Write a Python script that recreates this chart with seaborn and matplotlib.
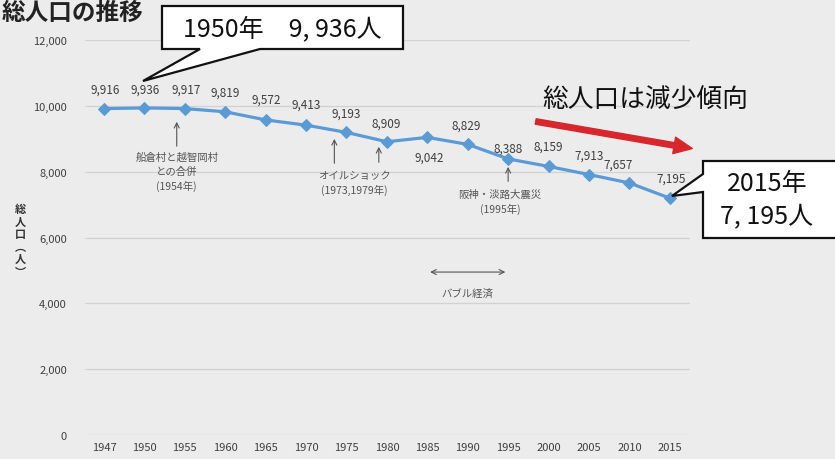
import matplotlib
matplotlib.use("Agg")
import matplotlib.pyplot as plt
from matplotlib.patches import Polygon, FancyArrowPatch
import seaborn as sns
import pandas as pd
import numpy as np

# data
years = ["1947", "1950", "1955", "1960", "1965", "1970", "1975", "1980",
         "1985", "1990", "1995", "2000", "2005", "2010", "2015"]
population = [9916, 9936, 9917, 9819, 9572, 9413, 9193, 8909,
              9042, 8829, 8388, 8159, 7913, 7657, 7195]
y_ticks = [0, 2000, 4000, 6000, 8000, 10000, 12000]

# label offsets in pixels (dx, dy) relative to each point
label_offsets = [(1, 19), (1, 19), (1, 19), (0, 20), (1, 21), (0, 21), (0, 19), (-1, 19),
                 (2, -20), (-2, 19), (0, 11), (0, 20), (0, 19), (-11, 19), (1, 20)]

df = pd.DataFrame({"year": years, "population": population})

sns.set_theme(style="white")
plt.rcParams["font.family"] = ["Noto Sans CJK JP", "DejaVu Sans"]

bg = "#ececec"
W, H = 835, 460
fig = plt.figure(figsize=(W / 100, H / 100), dpi=100, facecolor=bg)
ax = fig.add_axes([85 / W, 24 / H, 605 / W, 395 / H], facecolor=bg)

sns.lineplot(data=df, x="year", y="population", sort=False, ax=ax,
             color="#5b9bd5", linewidth=2.3, marker="D", markersize=6,
             markeredgecolor="#5b9bd5", zorder=3)

ax.set_xlim(-0.47, len(years) - 0.5)
ax.set_ylim(0, 12000)
ax.set_yticks(y_ticks)
ax.set_yticklabels([f"{v:,}" for v in y_ticks], fontsize=8, color="#404040")
ax.tick_params(axis="y", length=0, pad=13)
ax.tick_params(axis="x", length=0, pad=5, labelsize=8, labelcolor="#404040")
ax.yaxis.grid(True, color="#d2d2d2", linewidth=0.9)
ax.xaxis.grid(False)
ax.set_xlabel("")
ax.set_ylabel("")
for s in ax.spines.values():
    s.set_visible(False)

# data labels
for i, (v, (dx, dy)) in enumerate(zip(population, label_offsets)):
    ax.annotate(f"{v:,}", xy=(i, v), xytext=(dx, dy), textcoords="offset pixels",
                ha="center", va="center", fontsize=8.5, color="#404040")


def pos(year):
    yrs = [int(y) for y in years]
    return float(np.interp(year, yrs, range(len(yrs))))


note_kw = dict(fontsize=7.5, color="#555555", ha="center", va="top", linespacing=1.45)
arrow_kw = dict(arrowstyle="->", color="#555555", lw=0.8, mutation_scale=9)

# merger 1954
ax.annotate("", xy=(pos(1954), 9600), xytext=(pos(1954), 8690), arrowprops=arrow_kw)
ax.text(pos(1954), 8620, "船倉村と越智岡村\nとの合併\n(1954年)", **note_kw)
# oil shock
ax.annotate("", xy=(pos(1973.5), 9080), xytext=(pos(1973.5), 8170), arrowprops=arrow_kw)
ax.annotate("", xy=(pos(1979), 8840), xytext=(pos(1979), 8200), arrowprops=arrow_kw)
ax.text(pos(1976), 8050, "オイルショック\n(1973,1979年)", **note_kw)
# earthquake
ax.annotate("", xy=(pos(1995), 8230), xytext=(pos(1995), 7620), arrowprops=arrow_kw)
ax.text(pos(1994), 7480, "阪神・淡路大震災\n(1995年)", **note_kw)
# bubble
ax.annotate("", xy=(pos(1985), 4950), xytext=(pos(1995), 4950),
            arrowprops=dict(arrowstyle="<->", color="#555555", lw=0.8, mutation_scale=9))
ax.text(pos(1990), 4470, "バブル経済", **note_kw)


def fig_pts(pts):
    return [(x / W, 1 - y / H) for x, y in pts]


# callout boxes
box1 = [(162, 7), (403, 7), (403, 50), (260, 50), (143, 82), (200, 50), (162, 50)]
fig.patches.append(Polygon(fig_pts(box1), closed=True, transform=fig.transFigure,
                           facecolor="white", edgecolor="#111111", lw=1.6, zorder=5))
fig.text(282 / W, 1 - 29 / H, "1950年　9, 936人", ha="center", va="center",
         fontsize=18, color="#111111", zorder=6)

box2 = [(703, 162), (840, 162), (840, 239), (703, 239), (703, 193), (672, 197), (703, 175)]
fig.patches.append(Polygon(fig_pts(box2), closed=True, transform=fig.transFigure,
                           facecolor="white", edgecolor="#111111", lw=1.6, zorder=5))
fig.text(767 / W, 1 - 200 / H, "2015年\n7, 195人", ha="center", va="center",
         fontsize=18, color="#111111", linespacing=1.3, zorder=6)

# trend text and arrow
fig.text(645 / W, 1 - 101 / H, "総人口は減少傾向", ha="center", va="center",
         fontsize=18.5, color="#111111")
fig.patches.append(FancyArrowPatch(
    (533 / W, 1 - 122 / H), (695 / W, 1 - 150 / H), transform=fig.transFigure,
    arrowstyle="simple,head_length=1.1,head_width=1.0,tail_width=0.33",
    mutation_scale=12, color="#d7262c", zorder=4))

# title
fig.text(0.002, 0.999, "総人口の推移", ha="left", va="top",
         fontsize=17, fontweight="bold", color="#222222")

# vertical y label
fig.text(20 / W, 1 - 241 / H, "総\n人\n口\n︵\n人\n︶", ha="center", va="center",
         fontsize=8, fontweight="bold", color="#333333", linespacing=0.95)

fig.savefig("out.png", dpi=100, facecolor=bg)
